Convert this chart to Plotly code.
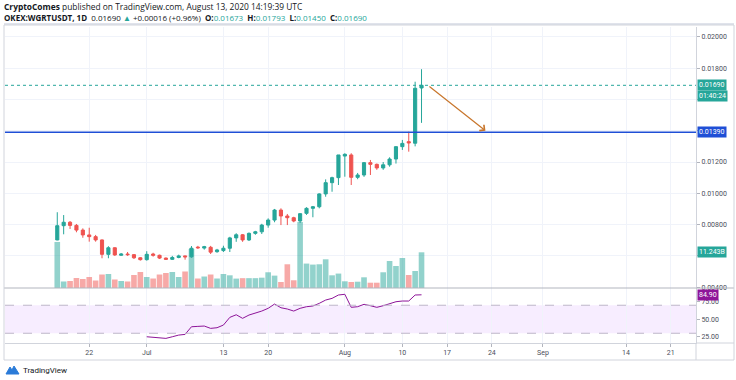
import plotly.graph_objects as go
import pandas as pd

# ---------------- data ----------------
first_day = "2020-06-17"
n_days = 58
opens = [0.00702, 0.00793, 0.00815, 0.00795, 0.00765, 0.00734, 0.00723, 0.00702, 0.00610, 0.00652,
         0.00604, 0.00612, 0.00608, 0.00588, 0.00576, 0.00612, 0.00604, 0.00586, 0.00578, 0.00590,
         0.00600, 0.00594, 0.00656, 0.00650, 0.00655, 0.00627, 0.00634, 0.00649, 0.00715, 0.00735,
         0.00702, 0.00744, 0.00754, 0.00797, 0.00829, 0.00893, 0.00855, 0.00844, 0.00823, 0.00872,
         0.00904, 0.00914, 0.00996, 0.01068, 0.01100, 0.01238, 0.01245, 0.01102, 0.01117, 0.01196,
         0.01185, 0.01162, 0.01182, 0.01219, 0.01298, 0.01330, 0.01320, 0.01673]
highs = [0.00879, 0.00861, 0.00823, 0.00804, 0.00776, 0.00780, 0.00734, 0.00705, 0.00662, 0.00655,
         0.00618, 0.00625, 0.00612, 0.00592, 0.00630, 0.00620, 0.00608, 0.00590, 0.00600, 0.00608,
         0.00602, 0.00663, 0.00664, 0.00664, 0.00664, 0.00645, 0.00665, 0.00722, 0.00745, 0.00740,
         0.00750, 0.00760, 0.00805, 0.00840, 0.00900, 0.00904, 0.00868, 0.00850, 0.00872, 0.00911,
         0.00919, 0.01000, 0.01089, 0.01106, 0.01245, 0.01256, 0.01256, 0.01130, 0.01200, 0.01213,
         0.01190, 0.01200, 0.01230, 0.01300, 0.01341, 0.01394, 0.01713, 0.01793]
lows = [0.00700, 0.00738, 0.00772, 0.00751, 0.00716, 0.00691, 0.00691, 0.00585, 0.00585, 0.00600,
        0.00600, 0.00600, 0.00580, 0.00570, 0.00570, 0.00595, 0.00580, 0.00574, 0.00574, 0.00585,
        0.00576, 0.00588, 0.00645, 0.00640, 0.00612, 0.00620, 0.00625, 0.00625, 0.00690, 0.00690,
        0.00695, 0.00735, 0.00740, 0.00780, 0.00815, 0.00797, 0.00797, 0.00815, 0.00810, 0.00862,
        0.00847, 0.00904, 0.00978, 0.01010, 0.01053, 0.01106, 0.01053, 0.01090, 0.01105, 0.01117,
        0.01150, 0.01150, 0.01170, 0.01190, 0.01277, 0.01266, 0.01300, 0.01450]
closes = [0.00793, 0.00815, 0.00795, 0.00765, 0.00734, 0.00723, 0.00702, 0.00610, 0.00652, 0.00606,
          0.00612, 0.00608, 0.00588, 0.00576, 0.00610, 0.00604, 0.00586, 0.00578, 0.00590, 0.00600,
          0.00594, 0.00649, 0.00652, 0.00659, 0.00624, 0.00638, 0.00649, 0.00715, 0.00735, 0.00702,
          0.00744, 0.00754, 0.00797, 0.00829, 0.00893, 0.00855, 0.00844, 0.00823, 0.00870, 0.00904,
          0.00914, 0.00996, 0.01068, 0.01100, 0.01245, 0.01249, 0.01102, 0.01117, 0.01196, 0.01185,
          0.01162, 0.01182, 0.01219, 0.01298, 0.01319, 0.01322, 0.01671, 0.01690]
volumes_b = [14.5, 2.05, 2.2, 3.15, 2.84, 3.47, 2.36, 4.25, 4.41, 2.68,
             2.2, 2.05, 4.1, 5.04, 3.47, 2.99, 4.25, 4.73, 5.04, 3.47,
             5.2, 12.3, 2.99, 3.62, 4.25, 2.99, 4.41, 4.0, 2.96, 3.1,
             3.1, 3.1, 3.25, 4.95, 3.9, 1.89, 7.47, 2.43, 20.8, 7.69,
             7.37, 7.47, 9.04, 4.0, 4.54, 2.11, 1.89, 1.98, 3.37, 1.67,
             1.67, 4.95, 8.5, 6.93, 9.45, 4.1, 5.36, 11.243]
rsi_start_index = 14
rsi_values = [25.0, 24.1, 23.1, 22.7, 25.0, 27.4, 28.4, 39.3, 39.8, 40.3,
              37.0, 37.9, 41.7, 52.7, 56.4, 51.3, 56.0, 58.4, 61.7, 65.6,
              71.7, 66.4, 64.6, 61.7, 65.6, 67.9, 68.9, 72.7, 77.4, 79.8,
              84.6, 85.6, 67.0, 67.9, 71.3, 69.3, 67.0, 69.3, 72.1, 75.0,
              76.0, 76.0, 84.6, 84.9]
support_level = 0.01390
last_price = 0.01690
arrow_start = ("2020-08-14", 0.01690)
arrow_end = ("2020-08-23", 0.01400)
price_ticks = [0.004, 0.006, 0.008, 0.010, 0.012, 0.014, 0.016, 0.018, 0.020]
price_ticks_hidden = [0.006, 0.014, 0.016]   # covered by the axis price labels
rsi_ticks = [25, 50, 75]
x_tick_dates = ["2020-06-22", "2020-07-01", "2020-07-13", "2020-07-20", "2020-08-01",
                "2020-08-10", "2020-08-17", "2020-08-24", "2020-09-01", "2020-09-14", "2020-09-21"]
x_tick_labels = ["22", "Jul", "13", "20", "Aug", "10", "17", "24", "Sep", "14", "21"]

dates = pd.date_range(first_day, periods=n_days, freq="D")
rsi_dates = dates[rsi_start_index:]

UP = "#26a69a"
DOWN = "#ef5350"
UP_VOL = "rgba(38,166,154,0.5)"
DOWN_VOL = "rgba(239,83,80,0.5)"
RSI_COL = "#8E1599"
GRID = "#f0f3fa"
BORDER = "#d1d4dc"
TXT = "#4a4e5a"

# ---------------- geometry (pixels) ----------------
W, H = 736, 380
L, R, T, B = 5, 40, 27, 37
PW, PH = W - L - R, H - T - B
pane_split_px = 288
split = (H - B - pane_split_px) / PH


def px_x(p):
    return (p - L) / PW


def px_y(p):
    return (H - B - p) / PH


x_start = pd.Timestamp(first_day) - pd.Timedelta(days=8.18)
x_end = pd.Timestamp(first_day) + pd.Timedelta(days=99.95)

fig = go.Figure()

vol_colors = [UP_VOL if c >= o else DOWN_VOL for o, c in zip(opens, closes)]
fig.add_trace(go.Bar(x=dates, y=volumes_b, marker=dict(color=vol_colors, line=dict(width=0)),
                     yaxis="y2", xaxis="x", showlegend=False, hoverinfo="skip"))

fig.add_trace(go.Candlestick(
    x=dates, open=opens, high=highs, low=lows, close=closes,
    increasing=dict(line=dict(color=UP, width=1), fillcolor=UP),
    decreasing=dict(line=dict(color=DOWN, width=1), fillcolor=DOWN),
    whiskerwidth=0, xaxis="x", yaxis="y", showlegend=False, hoverinfo="skip"))

fig.add_trace(go.Scatter(x=rsi_dates, y=rsi_values, mode="lines",
                         line=dict(color=RSI_COL, width=1), xaxis="x", yaxis="y3",
                         showlegend=False, hoverinfo="skip"))

tickfont = dict(family="Roboto", size=7, color=TXT)

fig.update_layout(
    width=W, height=H,
    margin=dict(l=L, r=R, t=T, b=B),
    paper_bgcolor="white", plot_bgcolor="white",
    bargap=0.12,
    xaxis=dict(domain=[0, 1], anchor="y3", type="date", range=[x_start, x_end],
               tickvals=x_tick_dates, ticktext=x_tick_labels, tickfont=tickfont,
               showgrid=True, gridcolor=GRID, gridwidth=1, ticks="outside", ticklen=3,
               tickcolor="#b2b5be", showline=True, linecolor=BORDER, mirror=False,
               rangeslider=dict(visible=False), zeroline=False),
    yaxis=dict(domain=[split, 1], anchor="x", side="right",
               range=[0.003949, 0.020626], tickvals=price_ticks,
               ticktext=["" if v in price_ticks_hidden else f"{v:.5f}" for v in price_ticks],
               tickfont=tickfont,
               showgrid=True, gridcolor=GRID, gridwidth=1, ticks="outside", ticklen=3,
               tickcolor="#b2b5be", showline=True, linecolor=BORDER, zeroline=False),
    yaxis2=dict(overlaying="y", range=[0, 82.2], visible=False),
    yaxis3=dict(domain=[0, split], anchor="x", side="right", range=[16.1, 94.6],
                tickvals=rsi_ticks, ticktext=[f"{v:.2f}" for v in rsi_ticks], tickfont=tickfont,
                showgrid=False, ticks="outside", ticklen=3, tickcolor="#b2b5be",
                showline=True, linecolor=BORDER, zeroline=False),
)

shapes = []
# RSI band
shapes.append(dict(type="rect", xref="paper", yref="y3", x0=0, x1=1, y0=30, y1=70,
                   fillcolor="rgba(153,21,255,0.08)", line=dict(width=0), layer="below"))
for lvl in (30, 70):
    shapes.append(dict(type="line", xref="paper", yref="y3", x0=0, x1=1, y0=lvl, y1=lvl,
                       line=dict(color="#bdb6c9", width=1, dash="dash")))
# price lines
shapes.append(dict(type="line", xref="paper", yref="y", x0=0, x1=1, y0=last_price, y1=last_price,
                   line=dict(color=UP, width=1, dash="dot")))
shapes.append(dict(type="line", xref="paper", yref="y", x0=0, x1=1, y0=support_level, y1=support_level,
                   line=dict(color="#1f4fd6", width=1.5)))
# frame lines
shapes.append(dict(type="line", xref="paper", yref="paper", x0=px_x(4), x1=px_x(734),
                   y0=split, y1=split, line=dict(color="#b2b5be", width=1)))
shapes.append(dict(type="line", xref="paper", yref="paper", x0=px_x(4), x1=px_x(734),
                   y0=px_y(24), y1=px_y(24), line=dict(color="#e0e3eb", width=2)))
shapes.append(dict(type="rect", xref="paper", yref="paper", x0=px_x(4), x1=px_x(734),
                   y0=px_y(360), y1=px_y(25), line=dict(color=BORDER, width=1)))
shapes.append(dict(type="line", xref="paper", yref="paper", x0=1, x1=1,
                   y0=px_y(360), y1=px_y(343), line=dict(color=BORDER, width=1)))
shapes.append(dict(type="line", xref="paper", yref="paper", x0=1, x1=px_x(734),
                   y0=px_y(343), y1=px_y(343), line=dict(color=BORDER, width=1)))
# TradingView logo icon
lx0, ly0 = 6, 374
logo_pts = [(0, 0), (4, -7), (6, -4), (8, -8), (13, 0)]
path = "M " + " L ".join(f"{px_x(lx0 + a)},{px_y(ly0 + b)}" for a, b in logo_pts) + " Z"
shapes.append(dict(type="path", xref="paper", yref="paper", path=path,
                   fillcolor="#2a7bd8", line=dict(color="#2a7bd8", width=1)))
fig.update_layout(shapes=shapes)

ann = []
NB = "\u00a0"
hdr1_font = dict(family="Open Sans", size=8.4, color="#131722")
hdr2_font = dict(family="Open Sans", size=8, color="#131722")
line1 = "<b>CryptoComes</b> published on TradingView.com, August 13, 2020 14:19:39 UTC"
g = lambda s: f"<span style='color:{UP}'>{s}</span>"
sp = NB * 2
line2 = (f"<b>OKEX:WGRTUSDT, 1D</b>{sp}0.01690 {g('▲')} +0.00016 (+0.96%){sp}"
         f"<b>O:</b>{g('0.01673')}{sp}<b>H:</b>{g('0.01793')}{sp}<b>L:</b>{g('0.01450')}{sp}"
         f"<b>C:</b>{g('0.01690')}")
ann.append(dict(text=line1, xref="paper", yref="paper", x=px_x(3), y=px_y(6),
                xanchor="left", yanchor="middle", showarrow=False, font=hdr1_font, borderpad=0))
ann.append(dict(text=line2, xref="paper", yref="paper", x=px_x(3), y=px_y(17.5),
                xanchor="left", yanchor="middle", showarrow=False, font=hdr2_font, borderpad=0))

lab_font = dict(family="Roboto", size=7, color="white")


def axis_label(text, yref, y, bg):
    return dict(text=text, xref="paper", yref=yref, x=1, y=y, xanchor="left", yanchor="middle",
                showarrow=False, font=lab_font, bgcolor=bg, borderpad=1, xshift=1)


ann.append(axis_label(f"{last_price:.5f}", "y", last_price, UP))
ann.append(axis_label("01:40:24", "paper", px_y(96), UP))
ann.append(axis_label(f"{support_level:.5f}", "y", support_level, "#1f4fd6"))
ann.append(axis_label(f"{volumes_b[-1]:.3f}B", "y2", volumes_b[-1], UP))
ann.append(axis_label(f"{rsi_values[-1]:.2f}", "y3", rsi_values[-1], RSI_COL))

ann.append(dict(x=arrow_end[0], y=arrow_end[1], ax=arrow_start[0], ay=arrow_start[1],
                xref="x", yref="y", axref="x", ayref="y", showarrow=True, text="",
                arrowhead=4, arrowsize=1.2, arrowwidth=1.2, arrowcolor="#c8762c"))

ann.append(dict(text="TradingView", xref="paper", yref="paper", x=px_x(21), y=px_y(370),
                xanchor="left", yanchor="middle", showarrow=False,
                font=dict(family="Roboto", size=8, color="#131722")))
fig.update_layout(annotations=ann)

fig.write_html("out.html", config={"displayModeBar": False},
               post_script="document.body.style.margin='0';document.body.style.overflow='hidden';")
